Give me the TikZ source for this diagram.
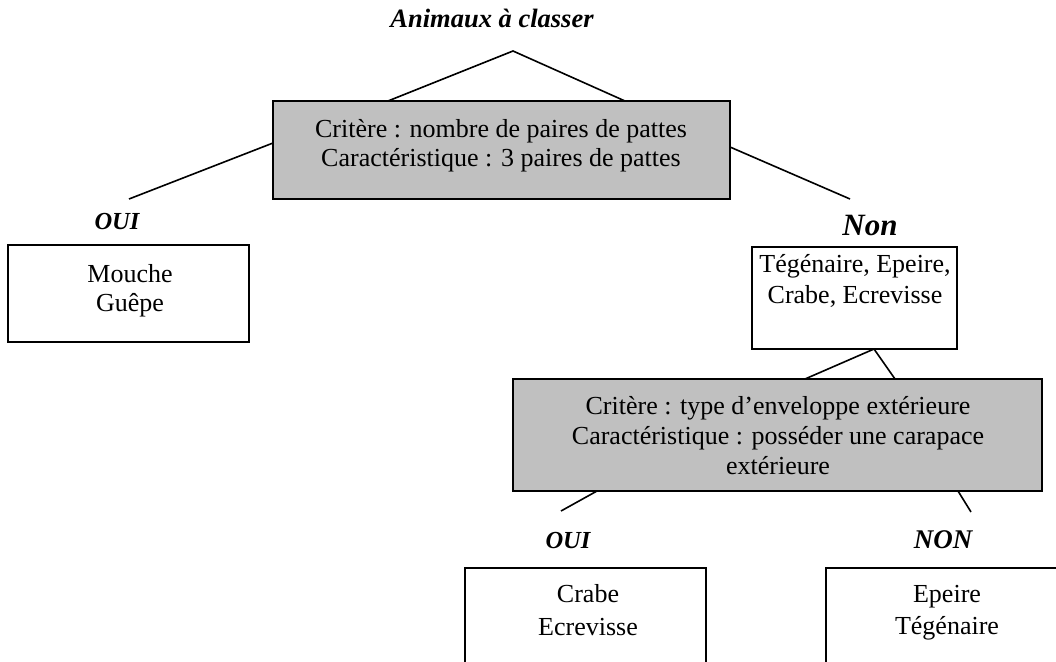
\documentclass[tikz,border=0pt]{standalone}
\usepackage{fontspec}
\setmainfont{Liberation Serif}
\definecolor{boxgrey}{RGB}{192,192,192}
\newcommand{\lines}[1]{\begin{tabular}[t]{@{}c@{}}#1\end{tabular}}
\begin{document}
\begin{tikzpicture}[x=1pt,y=-1pt,line width=1.5pt,
  plainbox/.style={draw=black,line width=2pt,inner sep=0pt,outer sep=0pt,anchor=north west,fill=white},
  greybox/.style={plainbox,fill=boxgrey},
  txt/.style={inner sep=0pt,anchor=base,font=\fontsize{26}{29}\selectfont},
  lab/.style={inner sep=0pt,anchor=base,font=\fontsize{25}{29}\selectfont\bfseries\itshape},
  conn/.style={line width=1.6pt}]
\useasboundingbox (0,0) rectangle (1056,661);
% boxes
\node[greybox,minimum width=457pt,minimum height=98pt] (g1) at (273,101) {};
\node[plainbox,minimum width=241pt,minimum height=97pt] (b1) at (8,245) {};
\node[plainbox,minimum width=205pt,minimum height=102pt] (b2) at (752,247) {};
\node[greybox,minimum width=529pt,minimum height=112pt] (g2) at (513,379) {};
\node[plainbox,minimum width=241pt,minimum height=130pt] (b3) at (465,568) {};
\node[plainbox,minimum width=245pt,minimum height=130pt] (b4) at (826,568) {};
% texts
\node[lab,font=\fontsize{26.5}{29}\selectfont\bfseries\itshape] (title) at (492,28) {Animaux à classer};
\node[txt] (g1t) at (501,137) {\lines{Critère : nombre de paires de pattes\\Caractéristique : 3 paires de pattes}};
\node[lab,font=\fontsize{24.5}{29}\selectfont\bfseries\itshape] (oui1) at (117,229) {OUI};
\node[lab,font=\fontsize{31}{29}\selectfont\bfseries\itshape] (non1) at (870,235) {Non};
\node[txt] (b1t) at (130,282) {\lines{Mouche\\Guêpe}};
\node[txt] (b2t) at (855,272) {\lines{Tégénaire, Epeire,\\[2pt]Crabe, Ecrevisse}};
\node[txt] (g2t) at (778,414) {\lines{Critère : type d’enveloppe extérieure\\[1pt]Caractéristique : posséder une carapace\\[1pt]extérieure}};
\node[lab,font=\fontsize{24.5}{29}\selectfont\bfseries\itshape] (oui2) at (568,548) {OUI};
\node[lab,font=\fontsize{27}{29}\selectfont\bfseries\itshape] (non2) at (943,548) {NON};
\node[txt] (b3t) at (588,602) {\lines{Crabe\\[4pt]Ecrevisse}};
\node[txt] (b4t) at (947,602) {\lines{Epeire\\[3pt]Tégénaire}};
% connector points
\coordinate (apex) at (513,51);
\coordinate (g1a) at (388,101);
\coordinate (g1b) at (625,101);
\coordinate (g1l) at (273,143);
\coordinate (ouiend) at (129,199);
\coordinate (g1r) at (730,147);
\coordinate (nonend) at (850,199);
\coordinate (b2apex) at (874,349);
\coordinate (g2a) at (805,379);
\coordinate (g2b) at (895,379);
\coordinate (g2l) at (597,491);
\coordinate (oui2end) at (561,511);
\coordinate (g2r) at (958,491);
\coordinate (non2end) at (971,512);
% connectors
\draw[conn] (g1a) -- (apex) -- (g1b);
\draw[conn] (g1l) -- (ouiend);
\draw[conn] (g1r) -- (nonend);
\draw[conn] (g2a) -- (b2apex) -- (g2b);
\draw[conn] (g2l) -- (oui2end);
\draw[conn] (g2r) -- (non2end);
\end{tikzpicture}
\end{document}
